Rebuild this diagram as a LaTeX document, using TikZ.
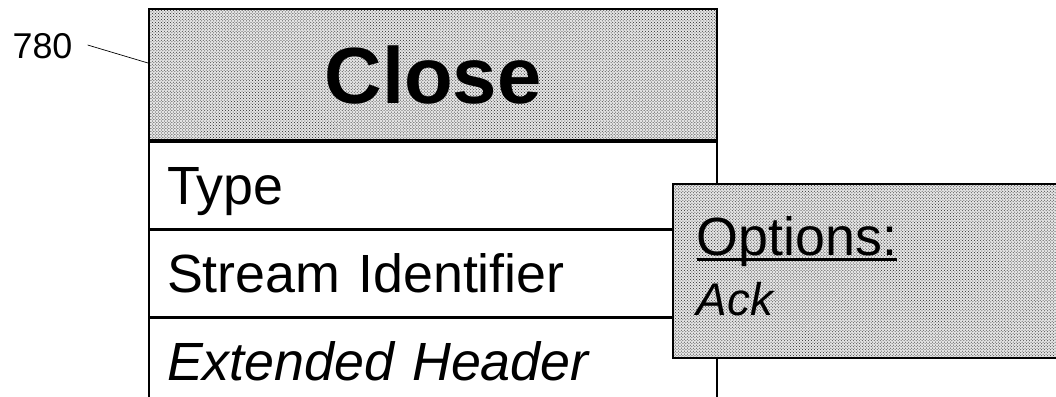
\documentclass[tikz,border=0pt]{standalone}
\usepackage{fontspec}
\setmainfont{Liberation Sans}
\usetikzlibrary{patterns,positioning}
\newcommand{\thickul}[1]{\setbox0\hbox{#1}\rlap{\rule[-6bp]{\wd0}{3.5bp}}\box0}
\tikzset{
    dotfill/.style={preaction={fill=black!10}, pattern=crosshatch dots, pattern color=black!85},
    hdrbox/.style={rectangle, draw, line width=2bp, dotfill,
        minimum width=568bp, minimum height=131bp, inner sep=0pt,
        text height=58bp, text depth=0pt,
        font=\fontsize{80}{90}\selectfont\bfseries},
    rowbox/.style={rectangle, draw, line width=1.5bp, fill=white,
        minimum width=568bp, minimum height=86.5bp, inner sep=0pt,
        text width=532bp, align=left, text height=39bp, text depth=0pt,
        font=\fontsize{54}{60}\selectfont},
    optbox/.style={rectangle, draw, line width=1.5bp, dotfill,
        minimum width=400bp, minimum height=174bp, inner sep=0pt,
        text width=352bp, align=left,
        font=\fontsize{54}{60}\selectfont},
}

\begin{document}
\begin{tikzpicture}[x=1bp,y=-1bp]
    \useasboundingbox (0,0) rectangle (1056,396);
    \clip (0,0) rectangle (1056,396);
    % record and its fields
    \node[hdrbox, anchor=north west] (close) at (148,8) {Close};
    \node[rowbox, anchor=north] (type) at (close.south) {Type};
    \node[rowbox, anchor=north] (stream) at (type.south) {Stream Identifier};
    \node[rowbox, anchor=north] (ext) at (stream.south) {\itshape Extended Header};
    % options note
    \node[optbox, anchor=north west] (opts) at (672,183)
        {\thickul{Options:}\\\fontsize{46}{60}\selectfont\itshape Ack\rule[-10bp]{0pt}{10bp}};
    % reference numeral
    \node[font=\fontsize{36}{40}\selectfont, inner sep=0pt] (num) at (42.5,46) {780};
    \coordinate (numtip) at (close.west |- 0,63);
    \draw[line width=0.7bp] (num.east) ++(15bp,1bp) -- (numtip);
\end{tikzpicture}
\end{document}
